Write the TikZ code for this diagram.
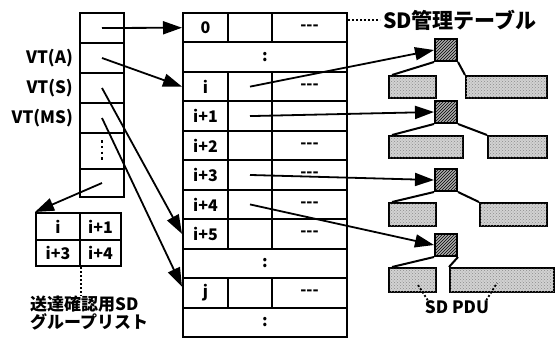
\documentclass[tikz,border=0pt]{standalone}
\usepackage{fontspec}
\setmainfont{Noto Sans CJK JP}
\usetikzlibrary{arrows.meta,patterns,calc}
\begin{document}
\begin{tikzpicture}[x=1pt,y=-1pt,
    tbl/.style={draw,line width=2pt,inner sep=0pt,anchor=north west,font=\fontsize{16}{16}\selectfont\bfseries},
    ptr/.style={line width=1.8pt,-{Triangle[length=19pt,width=13pt]}},
    dotline/.style={line width=1.8pt,dash pattern=on 2pt off 2pt},
    sdhead/.style={draw,line width=2pt,minimum size=22pt,inner sep=0pt,fill=gray!65,postaction={pattern=north east lines}},
    sdpdu/.style={draw,line width=2pt,inner sep=0pt,anchor=north west,fill=gray!35,postaction={pattern=crosshatch dots,pattern color=gray!90}},
    lbl/.style={inner sep=0pt,font=\fontsize{17}{18}\selectfont\bfseries}]
    \useasboundingbox (0,0) rectangle (555,338);

    \foreach \k/\nm/\lab/\dsh in {0/r0/0/1,2/ri/i/1,3/ri1/i+1/0,4/ri2/i+2/1,5/ri3/i+3/1,6/ri4/i+4/1,7/ri5/i+5/1,9/rj/j/1} {
        \node[tbl,minimum width=45pt,minimum height=29.45pt] (\nm) at (182,12+29.45*\k) {\lab};
        \node[tbl,minimum width=44pt,minimum height=29.45pt] (\nm-2) at (227,12+29.45*\k) {};
        \node[tbl,minimum width=75pt,minimum height=29.45pt] (\nm-3) at (271,12+29.45*\k) {\ifnum\dsh=1 -{}-{}-\fi};
    }
    \foreach \k/\nm in {1/rd1,8/rd2,10/rd3}
        \node[tbl,minimum width=164pt,minimum height=29.45pt] (\nm) at (182,12+29.45*\k) {:};

    \foreach \y/\h/\nm in {12/30/v0,42/30/vA,72/30/vS,102/30/vMS,132/36/vd,168/28/vg}
        \node[tbl,minimum width=44pt,minimum height=\h] (\nm) at (79,\y) {};
    \draw[line width=2.5pt,dash pattern=on 2.5pt off 3.3pt] ([yshift=11pt]vd.center) -- ([yshift=-11pt]vd.center);
    \node[lbl,anchor=east] (labA) at ([xshift=-6pt]vA.west) {VT(A)};
    \node[lbl,anchor=east] (labS) at ([xshift=-6pt]vS.west) {VT(S)};
    \node[lbl,anchor=east] (labMS) at ([xshift=-6pt]vMS.west) {VT(MS)};

    \node[tbl,minimum width=44pt,minimum height=27pt] (g1) at (35,212) {i};
    \node[tbl,minimum width=41pt,minimum height=27pt] (g2) at (79,212) {i+1};
    \node[tbl,minimum width=44pt,minimum height=26pt] (g3) at (35,239) {i+3};
    \node[tbl,minimum width=41pt,minimum height=26pt] (g4) at (79,239) {i+4};
    \node[lbl,anchor=north west,align=left] (glbl) at (30,296) {送達確認用SD\\グループリスト};
    \draw[dotline] (g3.south east) -- (g3.south east |- glbl.north);

    \foreach \n/\y in {1/50,2/112,3/180,4/245}
        \node[sdhead] (h\n) at (446,\y) {};
    \foreach \nm/\x/\y/\w/\h in {pl1/388/75/47/22,pr1/465/75/81/22,pl2/388/135/74/22,pr2/487/135/59/22,pl3/388/202/47/23,pr3/479/202/67/23,pl4/388/267/47/24,pr4/449/267/104/24}
        \node[sdpdu,minimum width=\w,minimum height=\h] (\nm) at (\x,\y) {};
    \foreach \n in {1,2,3,4} {
        \draw[line width=2pt] (h\n.south west) -- ([xshift=4pt]pl\n.north west);
        \draw[line width=2pt] (h\n.south east) -- (pr\n.north west);
    }

    \draw[ptr] (v0.center) -- (r0.west);
    \draw[ptr] (vA.center) -- (ri.west);
    \draw[ptr] (vS.center) -- (ri5.west);
    \draw[ptr] (vMS.center) -- ([yshift=6pt]rj.west);
    \draw[ptr] (vg.center) -- (g1.north west);

    \draw[ptr] (ri-2.center) -- (h1.west);
    \draw[ptr] (ri1-2.center) -- (h2.west);
    \draw[ptr] (ri3-2.center) -- (h3.west);
    \draw[ptr] (ri4-2.center) -- (h4.west);

    \node[lbl,font=\fontsize{21}{21}\selectfont\bfseries,anchor=west] (tlbl) at (383,20) {SD管理テーブル};
    \draw[dotline] (r0-3.east |- tlbl.west) -- ([xshift=-3pt]tlbl.west);

    \node[lbl] (plbl) at (457,307) {SD PDU};
    \coordinate (pdl) at (418,285);
    \coordinate (pdr) at (497,283);
    \draw[dotline] ([xshift=3pt]plbl.north west) -- (pdl);
    \draw[dotline] ([xshift=-3pt]plbl.north east) -- (pdr);
\end{tikzpicture}
\end{document}
